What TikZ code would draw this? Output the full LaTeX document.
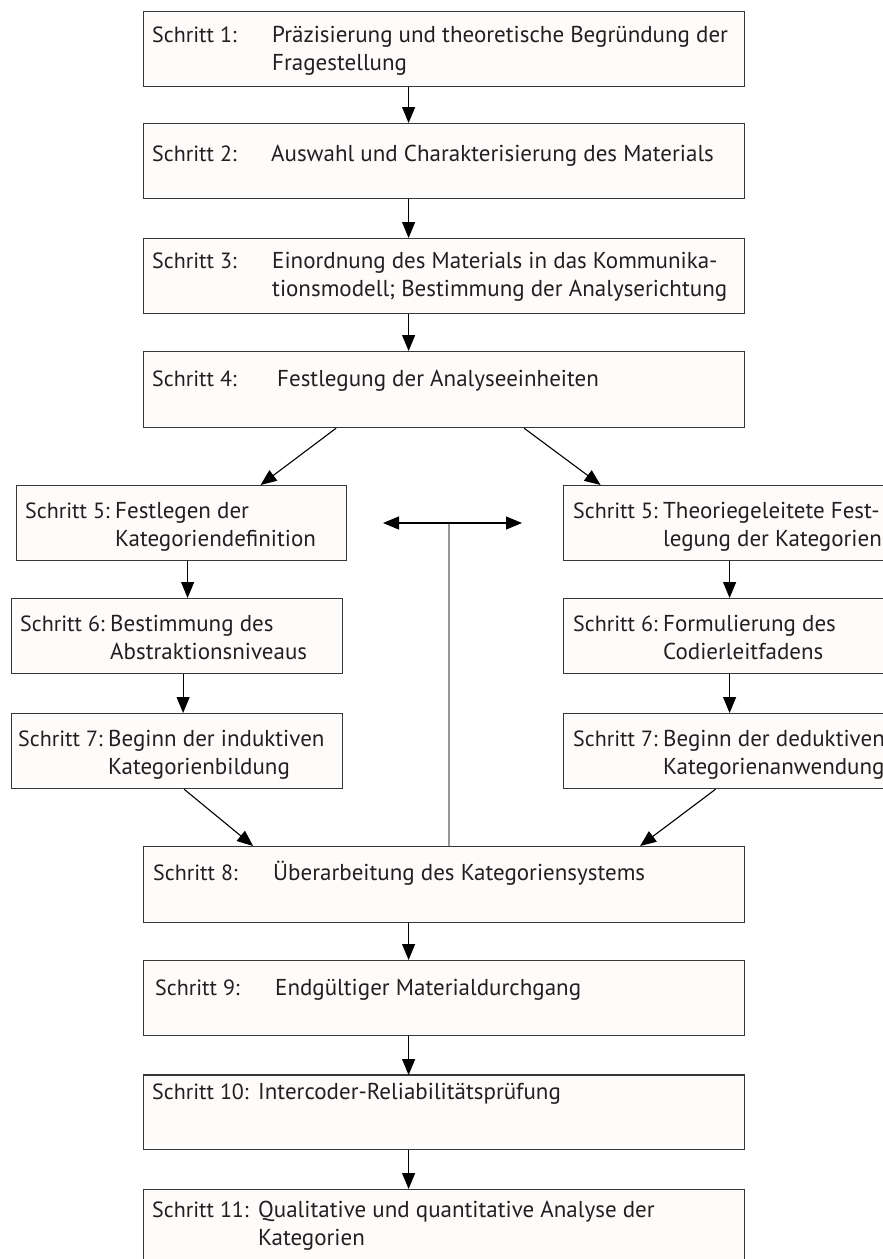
\documentclass[tikz,border=0pt]{standalone}
\usepackage{fontspec}
\setmainfont{PT Sans}
\usetikzlibrary{arrows.meta}
\definecolor{boxLine}{RGB}{55,55,55}
\definecolor{boxFill}{RGB}{253,252,250}
\definecolor{textCol}{RGB}{35,31,32}
\definecolor{backLine}{RGB}{150,150,150}
\newcommand{\steplines}[1]{\begin{tabular}[t]{@{}l@{}}#1\end{tabular}}
\tikzset{
    stepbox/.style={draw=boxLine, fill=boxFill, line width=1.2pt, inner sep=0pt, anchor=north west},
    mainbox/.style={stepbox, minimum width=601pt, minimum height=75pt},
    sidebox/.style={stepbox, minimum width=331pt, minimum height=75pt},
    steptext/.style={anchor=base west, inner sep=0pt, text=textCol,
        font=\fontsize{23}{28.5}\selectfont},
    steplabel/.style={steptext, font=\fontsize{22}{28.5}\selectfont},
    flow/.style={line width=1.1pt, -{Triangle[length=16pt, width=13pt]}}
}

\begin{document}
\begin{tikzpicture}[x=1pt, y=-1pt]

    % Configuration
    \def\colshift{-35.5pt}   % main arrows sit left of the box centre
    \def\sidebase{-33pt}     % baseline below the top of the side boxes

    \useasboundingbox (0,0) rectangle (883,1259);
    \clip (0,0) rectangle (883,1259);

    % 1. Main column, upper part
    \node[mainbox] (b1) at (143,11) {};
    \node[steplabel] (l1) at ([xshift=9pt, yshift=-31pt]b1.north west) {Schritt 1:};
    \node[steptext] (d1) at ([xshift=129pt, yshift=-31pt]b1.north west)
        {\steplines{Präzisierung und theoretische Begründung der\\Fragestellung}};

    \node[mainbox] (b2) at (143,123) {};
    \node[steplabel] (l2) at ([xshift=9pt, yshift=-38pt]b2.north west) {Schritt 2:};
    \node[steptext] (d2) at ([xshift=128pt, yshift=-38pt]b2.north west)
        {Auswahl und Charakterisierung des Materials};

    \node[mainbox] (b3) at (143,238) {};
    \node[steplabel] (l3) at ([xshift=9pt, yshift=-30pt]b3.north west) {Schritt 3:};
    \node[steptext] (d3) at ([xshift=129pt, yshift=-30pt]b3.north west)
        {\steplines{Einordnung des Materials in das Kommunika-\\tionsmodell; Bestimmung der Analyserichtung}};

    \node[mainbox, minimum height=76pt] (b4) at (143,351) {};
    \node[steplabel] (l4) at ([xshift=9pt, yshift=-35pt]b4.north west) {Schritt 4:};
    \node[steptext] (d4) at ([xshift=134pt, yshift=-35pt]b4.north west)
        {Festlegung der Analyseeinheiten};

    % 2. Left branch (induktiv)
    \node[sidebox, minimum width=330pt] (b5l) at (16,485) {};
    \node[steplabel] (l5l) at ([xshift=9pt, yshift=\sidebase]b5l.north west) {Schritt 5:};
    \node[steptext] (d5l) at ([xshift=99pt, yshift=\sidebase]b5l.north west)
        {\steplines{Festlegen der\\Kategoriendefinition}};

    \node[sidebox] (b6l) at (11,598) {};
    \node[steplabel] (l6l) at ([xshift=9pt, yshift=\sidebase]b6l.north west) {Schritt 6:};
    \node[steptext] (d6l) at ([xshift=99pt, yshift=\sidebase]b6l.north west)
        {\steplines{Bestimmung des\\Abstraktionsniveaus}};

    \node[sidebox] (b7l) at (11,713) {};
    \node[steplabel] (l7l) at ([xshift=7pt, yshift=\sidebase]b7l.north west) {Schritt 7:};
    \node[steptext] (d7l) at ([xshift=97pt, yshift=\sidebase]b7l.north west)
        {\steplines{Beginn der induktiven\\Kategorienbildung}};

    % 3. Right branch (deduktiv), runs past the page edge
    \node[sidebox, minimum width=332pt] (b5r) at (563,485) {};
    \node[steplabel] (l5r) at ([xshift=10pt, yshift=\sidebase]b5r.north west) {Schritt 5:};
    \node[steptext] (d5r) at ([xshift=100pt, yshift=\sidebase]b5r.north west)
        {\steplines{Theoriegeleitete Fest-\\legung der Kategorien}};

    \node[sidebox, minimum width=332pt] (b6r) at (563,598) {};
    \node[steplabel] (l6r) at ([xshift=10pt, yshift=\sidebase]b6r.north west) {Schritt 6:};
    \node[steptext] (d6r) at ([xshift=100pt, yshift=\sidebase]b6r.north west)
        {\steplines{Formulierung des\\Codierleitfadens}};

    \node[sidebox, minimum width=332pt] (b7r) at (563,713) {};
    \node[steplabel] (l7r) at ([xshift=10pt, yshift=\sidebase]b7r.north west) {Schritt 7:};
    \node[steptext] (d7r) at ([xshift=100pt, yshift=\sidebase]b7r.north west)
        {\steplines{Beginn der deduktiven\\Kategorienanwendung}};

    % 4. Main column, lower part
    \node[mainbox, minimum height=76pt] (b8) at (143,846) {};
    \node[steplabel] (l8) at ([xshift=10pt, yshift=-34pt]b8.north west) {Schritt 8:};
    \node[steptext] (d8) at ([xshift=130pt, yshift=-34pt]b8.north west)
        {Überarbeitung des Kategoriensystems};

    \node[mainbox] (b9) at (143,960) {};
    \node[steplabel] (l9) at ([xshift=12pt, yshift=-35pt]b9.north west) {Schritt 9:};
    \node[steptext] (d9) at ([xshift=132pt, yshift=-35pt]b9.north west)
        {Endgültiger Materialdurchgang};

    \node[mainbox, minimum height=74pt] (b10) at (143,1075) {};
    \draw[boxLine, line width=2.2pt] (b10.north west) -- (b10.north east);
    \node[steplabel] (l10) at ([xshift=9pt, yshift=-24pt]b10.north west) {Schritt 10:};
    \node[steptext] (d10) at ([xshift=115pt, yshift=-24pt]b10.north west)
        {Intercoder-Reliabilitätsprüfung};

    \node[mainbox, minimum height=80pt] (b11) at (143,1189) {};
    \node[steplabel] (l11) at ([xshift=9pt, yshift=-28pt]b11.north west) {Schritt 11:};
    \node[steptext] (d11) at ([xshift=115pt, yshift=-28pt]b11.north west)
        {\steplines{Qualitative und quantitative Analyse der\\Kategorien}};

    % 5. Arrows
    \foreach \a/\b in {b1/b2, b2/b3, b3/b4, b8/b9, b9/b10, b10/b11} {
        \draw[flow] ([xshift=\colshift]\a.south) -- ([xshift=\colshift]\b.north);
    }
    \foreach \a/\b in {b5l/b6l, b6l/b7l} {
        \draw[flow] ([xshift=6pt]\a.south) -- ([xshift=6pt]\a.south |- \b.north);
    }
    \foreach \a/\b in {b5r/b6r, b6r/b7r} {
        \draw[flow] (\a.south) -- (\b.north);
    }
    \draw[flow] ([xshift=-108pt]b4.south) -- ([xshift=79pt]b5l.north);
    \draw[flow] ([xshift=80pt]b4.south) -- ([xshift=-129pt]b5r.north);
    \draw[flow] ([xshift=7pt]b7l.south) -- ([xshift=-191pt]b8.north);
    \draw[flow] ([xshift=-14pt]b7r.south) -- ([xshift=196pt]b8.north);

    % 6. Feedback loop back to the category steps
    \coordinate (fb) at (449,523);
    \coordinate (fbL) at (383,523);
    \coordinate (fbR) at (522,523);
    \draw[backLine, line width=1.4pt] (fb) -- (fb |- b8.north);
    \draw[line width=1.1pt, {Triangle[length=16pt, width=13pt]}-{Triangle[length=16pt, width=13pt]}] (fbL) -- (fbR);

\end{tikzpicture}
\end{document}
